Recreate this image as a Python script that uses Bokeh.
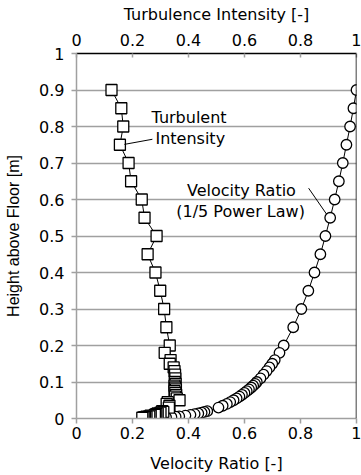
from bokeh.plotting import figure
from bokeh.models import LinearAxis, FixedTicker, Grid, Span, Range1d
from bokeh.core.properties import value
from bokeh.embed import file_html
from bokeh.resources import INLINE

# ---- data ----
height_m = [0.9, 0.85, 0.8, 0.75, 0.7, 0.65, 0.6, 0.55, 0.5, 0.45, 0.4, 0.35, 0.3, 0.25, 0.2,
            0.18, 0.16, 0.15, 0.14, 0.13, 0.12, 0.11, 0.1,
            0.095, 0.09, 0.085, 0.08, 0.075, 0.07, 0.065, 0.06, 0.055, 0.05, 0.045, 0.04, 0.035, 0.03,
            0.02, 0.018, 0.016, 0.014, 0.012, 0.01,
            0.008, 0.006, 0.005, 0.004, 0.003, 0.002]
velocity_ratio = [1.0, 0.989, 0.977, 0.964, 0.951, 0.937, 0.922, 0.906, 0.889, 0.871, 0.850, 0.828, 0.803, 0.774, 0.740,
                  0.725, 0.708, 0.699, 0.689, 0.679, 0.668, 0.657, 0.644,
                  0.638, 0.631, 0.624, 0.616, 0.608, 0.600, 0.591, 0.582, 0.572, 0.561, 0.549, 0.537, 0.522, 0.507,
                  0.467, 0.457, 0.447, 0.435, 0.422, 0.407,
                  0.389, 0.367, 0.354, 0.339, 0.320, 0.295]
turbulence_intensity = [0.125, 0.160, 0.167, 0.155, 0.186, 0.195, 0.233, 0.243, 0.286, 0.254, 0.282, 0.299, 0.313, 0.321, 0.333,
                        0.315, 0.336, 0.333, 0.347, 0.350, 0.352, 0.353, 0.351,
                        0.354, 0.350, 0.352, 0.355, 0.350, 0.353, 0.356, 0.352, 0.358, 0.368, 0.326, 0.322, 0.332, 0.330,
                        0.306, 0.310, 0.300, 0.290, 0.285, 0.280,
                        0.265, 0.260, 0.250, 0.245, 0.240, 0.235]

x_ticks = [0, 0.2, 0.4, 0.6, 0.8, 1]
x_tick_labels = ["0", "0.2", "0.4", "0.6", "0.8", "1"]
y_ticks = [0, 0.1, 0.2, 0.3, 0.4, 0.5, 0.6, 0.7, 0.8, 0.9, 1]
y_tick_labels = ["0", "0.1", "0.2", "0.3", "0.4", "0.5", "0.6", "0.7", "0.8", "0.9", "1"]

# annotation anchors (data units)
ti_label_lines = ["Turbulent", "Intensity"]
ti_label_x = [0.268, 0.282]
ti_label_y = [0.825, 0.768]
ti_leader = dict(x0=[0.171], y0=[0.751], x1=[0.271], y1=[0.765])
vr_label_lines = ["Velocity Ratio", "(1/5 Power Law)"]
vr_label_x = [0.589, 0.586]
vr_label_y = [0.626, 0.568]
vr_leader = dict(x0=[0.829], y0=[0.631], x1=[0.893], y1=[0.560])

FONT = "DejaVu Sans"
GRAY = "#a0a0a0"

p = figure(width=361, height=475, x_range=Range1d(0, 1), y_range=Range1d(0, 1),
           x_axis_type=None, y_axis_type=None,
           output_backend="svg", toolbar_location=None,
           min_border_left=76, min_border_right=5, min_border_top=53, min_border_bottom=56)
p.outline_line_color = None
p.background_fill_color = "white"
p.border_fill_color = "white"

xt = FixedTicker(ticks=x_ticks, minor_ticks=[])
yt = FixedTicker(ticks=y_ticks, minor_ticks=[])

def style_axis(ax, labels_map, line_color, tick_in, tick_out):
    ax.major_label_overrides = labels_map
    ax.axis_line_color = line_color
    ax.axis_line_width = 1.5
    ax.major_tick_line_color = GRAY
    ax.major_tick_line_width = 1.5
    ax.major_tick_in = tick_in
    ax.major_tick_out = tick_out
    ax.minor_tick_line_color = None
    ax.major_label_text_font = FONT
    ax.major_label_text_font_size = "16px"
    ax.major_label_text_color = "black"
    ax.axis_label_text_font = FONT
    ax.axis_label_text_font_size = "16px"
    ax.axis_label_text_font_style = "normal"
    ax.axis_label_text_color = "black"

xmap = {t: l for t, l in zip(x_ticks, x_tick_labels)}
ymap = {t: l for t, l in zip(y_ticks, y_tick_labels)}

bottom = LinearAxis(ticker=xt, axis_label="Velocity Ratio [-]")
style_axis(bottom, xmap, GRAY, 0, 5)
bottom.major_label_standoff = 3
bottom.axis_label_standoff = 12
p.add_layout(bottom, "below")

top = LinearAxis(ticker=xt, axis_label="Turbulence Intensity [-]")
style_axis(top, xmap, "black", 4, 0)
top.major_label_standoff = 8
top.axis_label_standoff = 7
p.add_layout(top, "above")

left = LinearAxis(ticker=yt, axis_label="Height above Floor [m]")
style_axis(left, ymap, GRAY, 0, 5)
left.major_label_standoff = 7
left.axis_label_standoff = 14
left.axis_label_text_font = "Liberation Sans"
p.add_layout(left, "left")

p.add_layout(Grid(dimension=1, ticker=yt, grid_line_color=GRAY, grid_line_width=1.5))
p.add_layout(Span(location=1, dimension="height", line_color="black", line_width=1.5))

# series: velocity ratio (circles)
p.line(velocity_ratio, height_m, line_color="black", line_width=1)
p.scatter(velocity_ratio, height_m, marker="circle", size=10.5, fill_color="white",
          line_color="black", line_width=1.3)

# series: turbulence intensity (squares)
p.line(turbulence_intensity, height_m, line_color="black", line_width=1)
p.scatter(turbulence_intensity, height_m, marker="square", size=11, fill_color="white",
          line_color="black", line_width=1.3)

# annotations
p.segment(**ti_leader, line_color="black", line_width=1)
p.segment(**vr_leader, line_color="black", line_width=1)
p.text(ti_label_x, ti_label_y, text=ti_label_lines, text_font=value(FONT), text_font_size="16px",
       text_align="left", text_baseline="middle", text_color="black")
p.text(vr_label_x, vr_label_y, text=vr_label_lines, text_font=value(FONT), text_font_size="16px",
       text_align="center", text_baseline="middle", text_color="black")

open("out.html", "w").write(file_html(p, INLINE))
